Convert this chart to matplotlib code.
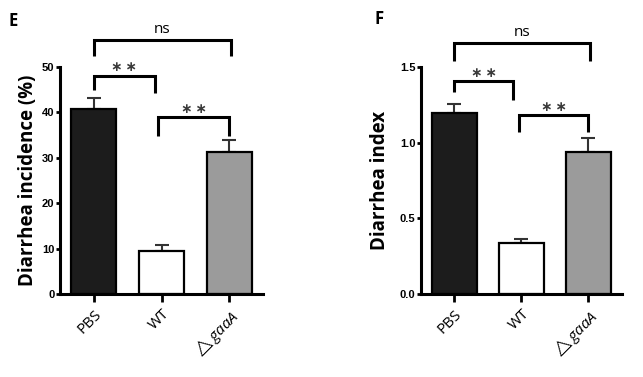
import matplotlib
matplotlib.use("Agg")
import matplotlib.pyplot as plt
import numpy as np

plt.rcParams['font.family'] = ['Open Sans', 'DejaVu Sans']
plt.rcParams['mathtext.fontset'] = 'custom'
plt.rcParams['mathtext.it'] = 'Open Sans:italic'
plt.rcParams['mathtext.rm'] = 'Open Sans'

categories = ['PBS', 'WT', r'$\triangle\mathit{gaaA}$']
bar_colors = ['#1c1c1c', '#ffffff', '#9b9b9b']

incidence_mean = [40.7, 9.5, 31.2]
incidence_err = [2.4, 1.3, 2.8]

index_mean = [1.194, 0.335, 0.940]
index_err = [0.062, 0.026, 0.093]

e_ticks = [0, 10, 20, 30, 40, 50]
e_ticklabels = ['0', '10', '20', '30', '40', '50']
f_ticks = [0.0, 0.5, 1.0, 1.5]
f_ticklabels = ['0.0', '0.5', '1.0', '1.5']

STARS = '\u2217\u2009\u2217'

# brackets: (x1, x2, y_top, y_left_end, y_right_end, label, label_y)
e_brackets = [
    (0, 2.02, 55.9, 52.4, 52.4, 'ns', 58.3),
    (0, 0.9, 48.0, 44.9, 44.3, STARS, 49.9),
    (0.95, 2.0, 39.0, 34.8, 34.8, STARS, 40.8),
]
f_brackets = [
    (0, 2.02, 1.661, 1.542, 1.542, 'ns', 1.725),
    (0, 0.88, 1.407, 1.335, 1.282, STARS, 1.462),
    (0.96, 2.0, 1.183, 1.070, 1.070, STARS, 1.235),
]

fig = plt.figure(figsize=(6.43, 3.77), dpi=100)
axE = fig.add_axes([0.0933, 0.2202, 0.316, 0.602])
axF = fig.add_axes([0.6547, 0.2202, 0.3126, 0.602])

tick_font = ['Liberation Sans Narrow', 'Liberation Sans', 'DejaVu Sans']


def draw(ax, means, errs, ticks, ticklabels, ylim, ylabel, brackets, labelpad):
    x = np.arange(len(categories))
    ax.bar(x, means, width=0.667, color=bar_colors, edgecolor='black',
           linewidth=1.6, zorder=2)
    ax.errorbar(x, means, yerr=[np.zeros(len(errs)), errs], fmt='none',
                ecolor='#333333', elinewidth=1.5, capsize=5, capthick=1.5,
                zorder=1)
    ax.set_xlim(-0.5, 2.5)
    ax.set_ylim(*ylim)
    ax.set_xticks(x)
    ax.set_xticklabels(categories, rotation=45, ha='right',
                       rotation_mode='anchor', fontsize=11)
    ax.set_yticks(ticks)
    ax.set_yticklabels(ticklabels, fontsize=8, family=tick_font,
                       fontweight='bold')
    ax.tick_params(axis='y', length=3, width=2, pad=1)
    ax.tick_params(axis='x', length=6, width=2, pad=3)
    for s in ['top', 'right']:
        ax.spines[s].set_visible(False)
    for s in ['left', 'bottom']:
        ax.spines[s].set_linewidth(2.2)
    ax.set_ylabel(ylabel, fontsize=13.5, fontweight='bold', labelpad=labelpad)
    for (x1, x2, yt, yl, yr, lab, ly) in brackets:
        ax.plot([x1, x1, x2, x2], [yl, yt, yt, yr], color='black',
                linewidth=2.2, clip_on=False, solid_joinstyle='miter',
                solid_capstyle='butt')
        ax.text((x1 + x2) / 2, ly, lab, ha='center', va='center',
                fontsize=11 if lab == 'ns' else 10,
                family=['Open Sans'] if lab == 'ns' else ['DejaVu Sans'],
                fontweight='normal' if lab == 'ns' else 'bold',
                color='black' if lab == 'ns' else '#3a3a3a',
                clip_on=False)


draw(axE, incidence_mean, incidence_err, e_ticks, e_ticklabels, (0, 50),
     'Diarrhea incidence (%)', e_brackets, 3)
draw(axF, index_mean, index_err, f_ticks, f_ticklabels, (0, 1.5),
     'Diarrhea index', f_brackets, 7)

fig.text(0.013, 0.945, 'E', fontsize=12, fontweight='bold', ha='left', va='center')
fig.text(0.583, 0.95, 'F', fontsize=12, fontweight='bold', ha='left', va='center')

fig.savefig('out.png', dpi=100)
